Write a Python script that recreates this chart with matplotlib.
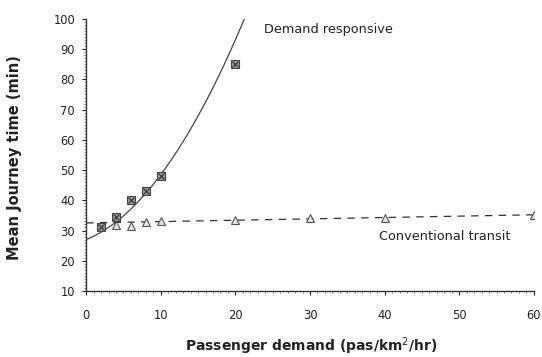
import numpy as np
import matplotlib
matplotlib.use("Agg")
import matplotlib.pyplot as plt
from matplotlib.ticker import MultipleLocator

# Data
dr_x = [2, 4, 6, 8, 10, 20]
dr_y = [31, 34.5, 40, 43, 48, 85]
ct_x = [4, 6, 8, 10, 20, 30, 40, 60]
ct_y = [31.8, 31.6, 32.8, 33.3, 33.6, 34.1, 34.2, 35.2]

# Fitted curves as drawn in the reference (quadratic / linear coefficients)
dr_curve_coef = [0.1155, 0.995, 27.0]   # y = a x^2 + b x + c
dr_curve_xmax = 21.3
ct_line_coef = [0.045, 32.5]            # y = m x + c

plt.rcParams['font.family'] = ['DejaVu Sans']

fig = plt.figure(figsize=(5.42, 3.57), dpi=100)
ax = fig.add_axes([0.159, 0.185, 0.826, 0.762])

xc = np.linspace(0, dr_curve_xmax, 200)
ax.plot(xc, np.polyval(dr_curve_coef, xc), color='#444444', lw=0.9, zorder=2)
xl = np.linspace(0, 60, 2)
ax.plot(xl, np.polyval(ct_line_coef, xl), color='#333333', lw=0.9,
        dashes=(6, 5), zorder=2)

ax.plot(ct_x, ct_y, linestyle='none', marker='^', markersize=5.5,
        markerfacecolor='#e0e0e0', markeredgecolor='#555555', markeredgewidth=0.8, zorder=3)
ax.plot(dr_x, dr_y, linestyle='none', marker='s', markersize=6,
        markerfacecolor='#999999', markeredgecolor='#444444', markeredgewidth=0.8, zorder=4)
ax.plot(dr_x, dr_y, linestyle='none', marker='x', markersize=4,
        markeredgecolor='#222222', markeredgewidth=0.7, zorder=5)

ax.text(23.8, 96.5, 'Demand responsive', fontsize=9.3, color='#222222', va='center')
ax.text(39.3, 28.0, 'Conventional transit', fontsize=9.3, color='#222222', va='center')

ax.set_xlim(0, 60)
ax.set_ylim(10, 100)
ax.xaxis.set_major_locator(MultipleLocator(10))
ax.yaxis.set_major_locator(MultipleLocator(10))
ax.xaxis.set_minor_locator(MultipleLocator(1))
ax.yaxis.set_minor_locator(MultipleLocator(1))
ax.tick_params(axis='both', which='major', length=3, width=0.8, labelsize=8.3,
               colors='#222222')
ax.tick_params(axis='x', which='major', pad=10)
ax.tick_params(axis='y', which='major', pad=5)
ax.tick_params(axis='both', which='minor', length=1.2, width=0.5, colors='#555555')

for s in ['top', 'right']:
    ax.spines[s].set_visible(False)
for s in ['left', 'bottom']:
    ax.spines[s].set_color('#333333')
    ax.spines[s].set_linewidth(1.0)

ax.set_xlabel('Passenger demand (pas/km$^2$/hr)', fontsize=10, fontweight='bold',
              color='#222222', va='center')
ax.set_ylabel('Mean Journey time (min)', fontsize=10.5, fontweight='bold',
              color='#222222', va='center')
ax.xaxis.set_label_coords(0.502, -0.202)
ax.yaxis.set_label_coords(-0.161, 0.49)

fig.savefig('out.png', dpi=100)
